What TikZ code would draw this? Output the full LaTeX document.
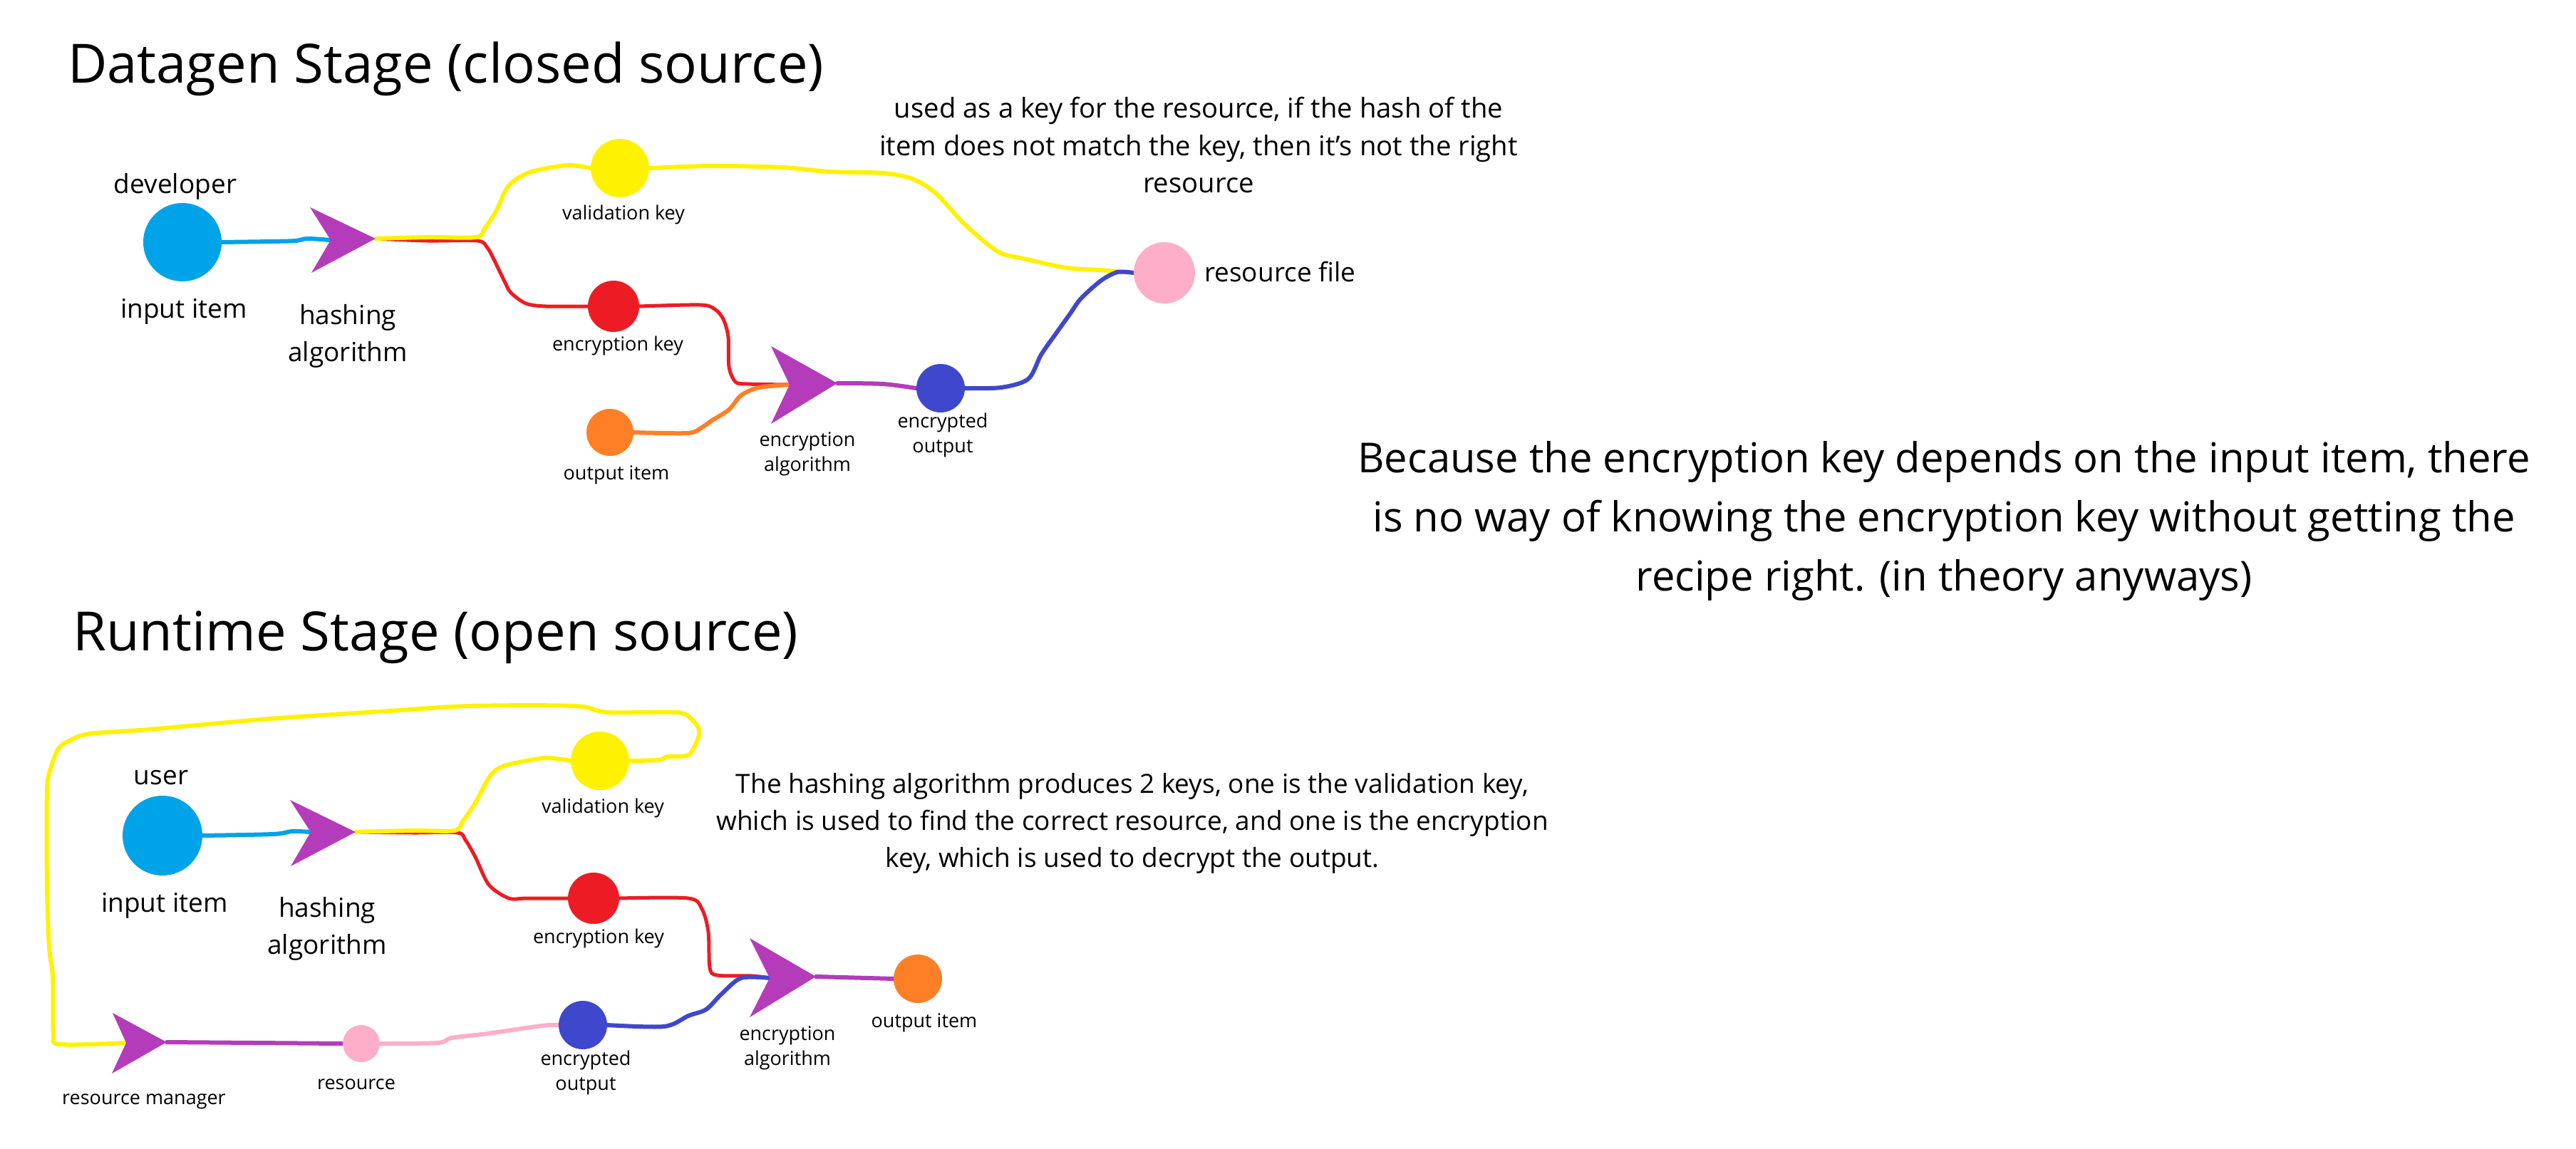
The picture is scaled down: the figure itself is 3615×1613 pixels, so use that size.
\documentclass[tikz,border=0pt]{standalone}
\usepackage{fontspec}
\setmainfont{Open Sans}
\usetikzlibrary{backgrounds}
\definecolor{cblue}{HTML}{00A2E8}
\definecolor{cpurple}{HTML}{B43CBA}
\definecolor{cyellow}{HTML}{FFF200}
\definecolor{cred}{HTML}{ED1C24}
\definecolor{corange}{HTML}{FF7F27}
\definecolor{cindigo}{HTML}{3F48CC}
\definecolor{cpink}{HTML}{FFAEC9}
\newcommand\ftitle{\fontsize{76}{90}\selectfont}
\newcommand\fmid{\fontsize{37}{52}\selectfont}
\newcommand\fnote{\fontsize{38.3}{52.5}\selectfont}
\newcommand\fsmall{\fontsize{27}{35.5}\selectfont}
\newcommand\fbig{\fontsize{58}{83}\selectfont}
\newcommand\mylines[1]{\begin{tabular}[t]{@{}c@{}}#1\end{tabular}}
\tikzset{
  dot/.style={circle, inner sep=0pt, draw=none},
  lbl/.style={inner sep=0pt, anchor=base, font=\fmid},
  slbl/.style={inner sep=0pt, anchor=base, font=\fsmall},
  ttl/.style={inner sep=0pt, anchor=base west, font=\ftitle},
  wire/.style={line width=6pt, line cap=round, line join=round},
  thinwire/.style={line width=5pt, line cap=round, line join=round},
  arrowshape/.style={fill=cpurple},
}
\begin{document}
\begin{tikzpicture}[x=1pt,y=-1pt]
\useasboundingbox (0,0) rectangle (3615,1613);

% ---------------- titles and texts ----------------
\node[ttl] (t1) at (95,117) {Datagen Stage (closed source)};
\node[ttl] (t2) at (102,913) {Runtime Stage (open source)};

\node[inner sep=0pt, anchor=base, font=\fnote] (p1) at (1682,166) {\mylines{used as a key for the resource, if the hash of the\\ item does not match the key, then it's not the right\\ resource}};
\node[inner sep=0pt, anchor=base, font=\fbig] (p2) at (2728,663) {\mylines{Because the encryption key depends on the input item, there\\ is no way of knowing the encryption key without getting the\\ recipe right. (in theory anyways)}};
\node[lbl] (p3) at (1589,1113) {\mylines{The hashing algorithm produces 2 keys, one is the validation key,\\ which is used to find the correct resource, and one is the encryption\\ key, which is used to decrypt the output.}};

% ---------------- datagen stage ----------------
\node[dot, fill=cblue, minimum size=110pt] (dIn) at (256,340) {};
\node[lbl] (dDev) at (246,272) {developer};
\node[lbl] (dInL) at (258,446) {input item};

\coordinate (hA-top) at (435,291);
\coordinate (hA-tip) at (527,335);
\coordinate (hA-bot) at (437,383);
\coordinate (hA-in) at (464,337);
\fill[arrowshape] (hA-top) -- (hA-tip) -- (hA-bot) -- (hA-in) -- cycle;
\node[lbl] (hAL) at (488,455) {\mylines{hashing\\ algorithm}};

\node[dot, fill=cyellow, minimum size=82pt] (vKey) at (870,236) {};
\node[slbl] (vKeyL) at (875,308) {validation key};
\node[dot, fill=cred, minimum size=72pt] (eKey) at (861,430) {};
\node[slbl] (eKeyL) at (867,492) {encryption key};
\node[dot, fill=corange, minimum size=66pt] (oItem) at (856,607) {};
\node[slbl] (oItemL) at (865,673) {output item};

\coordinate (eA-top) at (1082,486);
\coordinate (eA-tip) at (1175,538);
\coordinate (eA-bot) at (1082,595);
\coordinate (eA-in) at (1108,540);
\fill[arrowshape] (eA-top) -- (eA-tip) -- (eA-bot) -- (eA-in) -- cycle;
\node[slbl] (eAL) at (1133,626) {\mylines{encryption\\ algorithm}};

\node[dot, fill=cindigo, minimum size=68pt] (eOut) at (1320,545) {};
\node[slbl] (eOutL) at (1323,600) {\mylines{encrypted\\ output}};

\node[dot, fill=cpink, minimum size=86pt] (resFile) at (1634,383) {};
\node[inner sep=0pt, anchor=base west, font=\fmid] (resFileL) at (1690,395) {resource file};

% ---------------- runtime stage ----------------
\node[dot, fill=cblue, minimum size=112pt] (rIn) at (228,1173) {};
\node[lbl] (rUser) at (226,1101) {user};
\node[lbl] (rInL) at (231,1280) {input item};

\coordinate (hB-top) at (407,1123);
\coordinate (hB-tip) at (499,1168);
\coordinate (hB-bot) at (408,1216);
\coordinate (hB-in) at (436,1168);
\fill[arrowshape] (hB-top) -- (hB-tip) -- (hB-bot) -- (hB-in) -- cycle;
\node[lbl] (hBL) at (459,1287) {\mylines{hashing\\ algorithm}};

\node[dot, fill=cyellow, minimum size=82pt] (vKey2) at (842,1068) {};
\node[slbl] (vKey2L) at (846,1141) {validation key};
\node[dot, fill=cred, minimum size=72pt] (eKey2) at (833,1261) {};
\node[slbl] (eKey2L) at (840,1324) {encryption key};

\coordinate (eB-top) at (1052,1317);
\coordinate (eB-tip) at (1145,1371);
\coordinate (eB-bot) at (1052,1428);
\coordinate (eB-in) at (1080,1373);
\fill[arrowshape] (eB-top) -- (eB-tip) -- (eB-bot) -- (eB-in) -- cycle;
\node[slbl] (eBL) at (1105,1460) {\mylines{encryption\\ algorithm}};

\node[dot, fill=corange, minimum size=68pt] (oItem2) at (1288,1374) {};
\node[slbl] (oItem2L) at (1297,1442) {output item};

\node[dot, fill=cindigo, minimum size=68pt] (eOut2) at (818,1439) {};
\node[slbl] (eOut2L) at (822,1495) {\mylines{encrypted\\ output}};

\node[dot, fill=cpink, minimum size=52pt] (res) at (507,1465) {};
\node[slbl] (resL) at (500,1529) {resource};

\coordinate (rA-top) at (158,1422);
\coordinate (rA-tip) at (234,1463);
\coordinate (rA-bot) at (157,1507);
\coordinate (rA-in) at (177,1464);
\fill[arrowshape] (rA-top) -- (rA-tip) -- (rA-bot) -- (rA-in) -- cycle;
\node[slbl] (rAL) at (202,1550) {resource manager};

% ---------------- connectors ----------------
\begin{pgfonlayer}{background}
\fill[white] (0,0) rectangle (3615,1613);
% datagen
\draw[wire, cblue] plot[smooth, tension=0.5] coordinates {(dIn.east) (380,339) (415,338) (431,335) (hA-in)};
\draw[thinwire, cred] plot[smooth, tension=0.5] coordinates {(hA-tip) (600,338) (670,338) (684,348) (692,362) (709,397) (717,411) (738,426) (766,430) (eKey.west)};
\draw[wire, cyellow] plot[smooth, tension=0.5] coordinates {(hA-tip) (600,333) (668,333) (680,321) (697,295) (709,268) (721,254) (746,241) (796,232) (vKey.west)};
\draw[wire, cyellow] plot[smooth, tension=0.5] coordinates {(vKey.east) (1000,233) (1098,235) (1164,241) (1239,243) (1280,251) (1313,271) (1354,315) (1400,353) (1436,363) (1497,376) (1543,379) (resFile.west)};
\draw[thinwire, cred] plot[smooth, tension=0.5] coordinates {(eKey.east) (982,428) (1003,434) (1015,448) (1022,473) (1023,515) (1032,536) (1048,539) (eA-in)};
\draw[wire, corange] plot[smooth, tension=0.5] coordinates {(oItem.east) (965,608) (985,600) (998,591) (1023,575) (1040,555) (1065,544) (eA-in)};
\draw[wire, cpurple] plot[smooth, tension=0.5] coordinates {(eA-tip) (1239,539) (eOut.west)};
\draw[wire, cindigo] plot[smooth, tension=0.5] coordinates {(eOut.east) (1405,544) (1443,532) (1461,498) (1482,468) (1502,440) (1517,419) (1545,394) (1568,382) (resFile.west)};
% runtime
\draw[wire, cblue] plot[smooth, tension=0.5] coordinates {(rIn.east) (383,1171) (410,1167) (hB-in)};
\draw[thinwire, cred] plot[smooth, tension=0.5] coordinates {(hB-tip) (580,1169) (642,1169) (653,1179) (667,1203) (686,1242) (714,1261) (739,1261) (eKey2.west)};
\draw[wire, cyellow] plot[smooth, tension=0.5] coordinates {(hB-tip) (580,1166) (638,1166) (650,1152) (667,1127) (688,1089) (705,1076) (739,1068) (768,1064) (vKey2.west)};
\draw[wire, cyellow] plot[smooth, tension=0.5] coordinates {(vKey2.east) (924,1067) (937,1062) (966,1060) (979,1038) (981,1024) (970,1009) (949,1000) (853,1000) (806,991) (660,991) (547,998) (379,1009) (210,1024) (126,1030) (97,1040) (82,1051) (72,1076) (66,1110) (66,1245) (69,1329) (74,1371) (75,1450) (84,1466) (rA-in)};
\draw[thinwire, cred] plot[smooth, tension=0.5] coordinates {(eKey2.east) (966,1261) (985,1276) (994,1308) (996,1358) (1006,1369) (1055,1370) (eB-in)};
\draw[wire, cindigo] plot[smooth, tension=0.5] coordinates {(eOut2.east) (932,1441) (966,1426) (991,1417) (1012,1396) (1040,1373) (eB-in)};
\draw[wire, cpurple] (eB-tip) -- (oItem2.west);
\draw[wire, cpink] plot[smooth, tension=0.5] coordinates {(res.east) (614,1464) (634,1457) (684,1451) (760,1440) (eOut2.west)};
\draw[wire, cpurple] (rA-tip) -- (res.west);
\end{pgfonlayer}
\end{tikzpicture}
\end{document}
